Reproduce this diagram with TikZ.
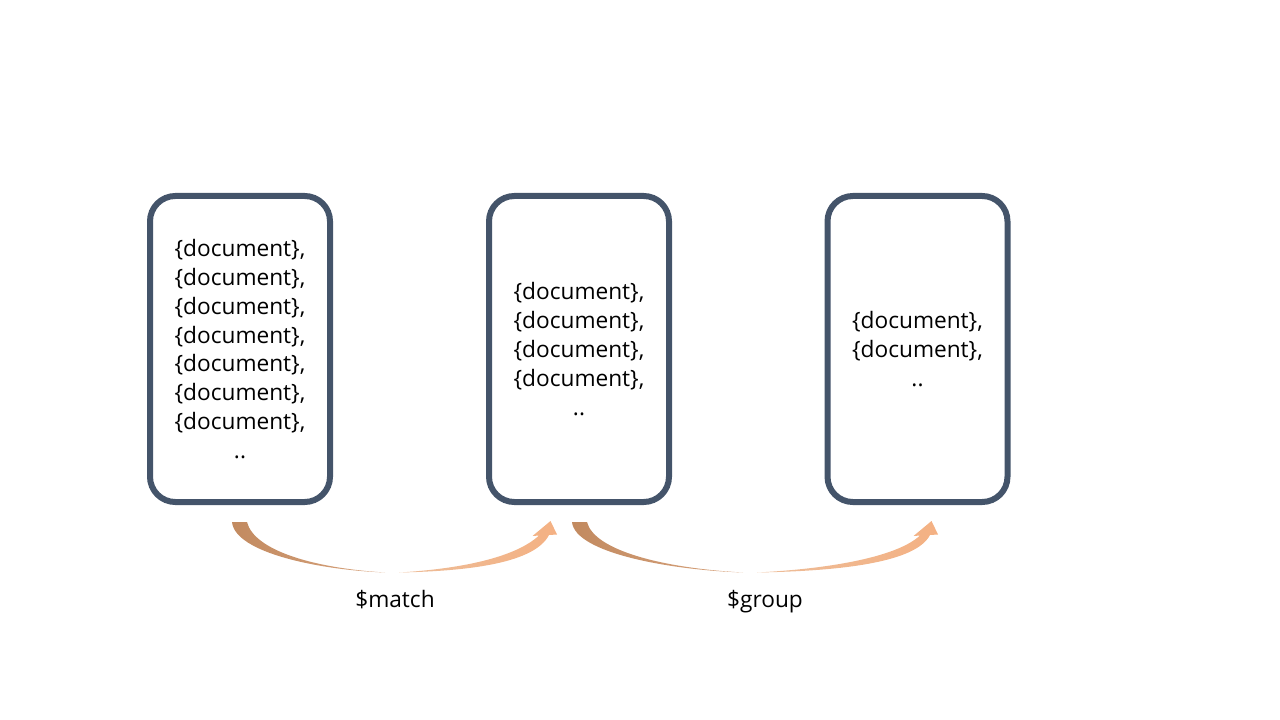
\documentclass[tikz,border=0pt]{standalone}
\usepackage{fontspec}
\setmainfont{Open Sans}
\usepackage{tikz}

\definecolor{boxline}{HTML}{44546A}
\definecolor{arrowdark}{HTML}{C28A60}
\definecolor{arrowmid}{HTML}{D8A47E}
\definecolor{arrowpale}{HTML}{EDBD99}
\definecolor{arrowlight}{HTML}{F4B183}

\tikzset{
  docbox/.style={draw=boxline, line width=4.5pt, rounded corners=19pt,
    fill=white, minimum width=135pt, minimum height=229.5pt,
    align=center, inner sep=0pt},
  steplabel/.style={inner sep=1pt, anchor=base}
}

\begin{document}
\begin{tikzpicture}[x=0.75pt, y=-0.75pt,
    font=\fontsize{17pt}{21.6pt}\selectfont]
    \useasboundingbox (0,0) rectangle (1280,720);
    % Boxes
    \node[docbox] (coll) at (240,349) {\{document\},\\\{document\},\\\{document\},\\\{document\},\\\{document\},\\\{document\},\\\{document\},\\..};
    \node[docbox] (matched) at (579,349) {\{document\},\\\{document\},\\\{document\},\\\{document\},\\..};
    \node[docbox] (grouped) at (917.5,349) {\{document\},\\\{document\},\\..};
    % Curved arrows: start x / middle x / end x
    \foreach \s/\m/\e in {232/392/557, 572/750/938} {
      \shade[left color=arrowdark, right color=arrowmid]
        (\s,522) .. controls (\s+3,553) and (\s+0.55*\m-0.55*\s,570) .. (\m-7,572.5)
        .. controls (\s+0.5*\m-0.5*\s,568) and (\s+22,550) .. (\s+15,522) -- cycle;
      \shade[left color=arrowpale, right color=arrowlight]
        (\m+7,572.5) .. controls (\m+0.5*\e-0.5*\m,571) and (\e-22,562) .. (\e-8,535)
        -- (\e,534.5) -- (\e-6.5,521) -- (\e-24.5,536) -- (\e-18,535.5)
        .. controls (\e-40,556) and (\m+0.45*\e-0.45*\m,568.5) .. (\m+7,572.5) -- cycle;
    }
    % Labels
    \node[steplabel] (matchlbl) at (395,607) {\$match};
    \node[steplabel] (grouplbl) at (765,607) {\$group};
\end{tikzpicture}
\end{document}
